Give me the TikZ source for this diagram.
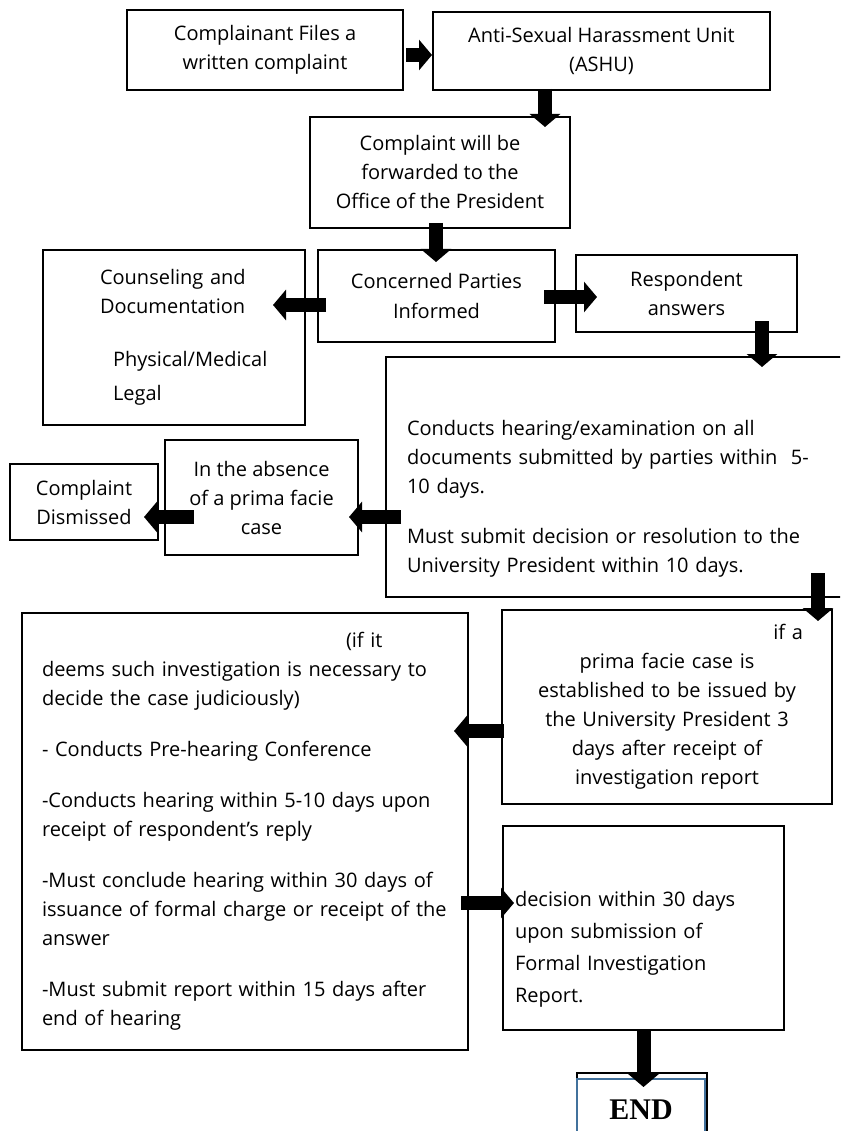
\documentclass[tikz,border=0pt]{standalone}
\usepackage{fontspec}
\setmainfont{Open Sans}
\newfontfamily\closingfont{Liberation Serif}
\usetikzlibrary{arrows.meta}
\definecolor{endblue}{RGB}{65,113,156}

\begin{document}
\begin{tikzpicture}[x=1pt, y=-1pt,
            stage/.style={draw, line width=2pt, inner sep=0pt, align=center, font=\fontsize{20}{29}\selectfont},
            blockarrow/.style={line width=14pt, -{Triangle[width=30pt,length=13pt]}},
        ]
            \useasboundingbox (0,0) rectangle (840,1131);
            \clip (0,0) rectangle (840,1131);

            \node[stage, minimum width=276pt, minimum height=80pt] (cfile) at (265,50) {Complainant Files a\\written complaint};
            \node[stage, minimum width=337pt, minimum height=78pt] (ashu) at (601.5,51) {Anti-Sexual Harassment Unit\\(ASHU)};
            \node[stage, minimum width=260pt, minimum height=111pt] (fwd) at (440,172.5) {Complaint will be\\forwarded to the\\Office of the President};
            \node[stage, minimum width=237pt, minimum height=92pt] (informed) at (436.5,296) {Concerned Parties\\Informed};
            \node[stage, minimum width=262pt, minimum height=175pt, text width=220pt, align=left] (counsel) at (174,337.5) {\hspace*{36pt}Counseling and\\\hspace*{36pt}Documentation\\[24pt]\hspace*{49pt}Physical/Medical\\[5pt]\hspace*{49pt}Legal};
            \node[stage, minimum width=221pt, minimum height=77pt] (respond) at (686.5,293.5) {Respondent\\answers};
            \node[stage, minimum width=474pt, minimum height=240pt, text width=432pt, align=left] (hearing) at (623,477) {\mbox{}\\\mbox{}\\Conducts hearing/examination on all\\documents submitted by parties within\ \ 5-\\10 days.\\[21pt]Must submit decision or resolution to the\\University President within 10 days.};
            \node[stage, minimum width=193pt, minimum height=115pt] (absence) at (261.5,497.5) {In the absence\\of a prima facie\\case};
            \node[stage, minimum width=148pt, minimum height=76pt] (dismiss) at (84,502) {Complaint\\Dismissed};
            \node[stage, minimum width=330pt, minimum height=194pt, text width=272pt] (prima) at (667,707) {\mbox{}\hfill if a\\prima facie case is\\established to be issued by\\the University President 3\\days after receipt of\\investigation report};
            \node[stage, minimum width=446pt, minimum height=437pt, text width=406pt, align=left] (formal) at (245,831.5) {\hspace*{304pt}(if it\\deems such investigation is necessary to\\decide the case judiciously)\\[22pt]- Conducts Pre-hearing Conference\\[22pt]-Conducts hearing within 5-10 days upon\\receipt of respondent’s reply\\[22pt]-Must conclude hearing within 30 days of\\issuance of formal charge or receipt of the\\answer\\[22pt]-Must submit report within 15 days after\\end of hearing};
            \node[stage, minimum width=281pt, minimum height=204pt, text width=257pt, align=left] (decide) at (643.5,928) {\mbox{}\\\mbox{}\\decision within 30 days\\[3pt]upon submission of\\[3pt]Formal Investigation\\[3pt]Report.};
            \node[draw, line width=2pt, minimum width=130pt, minimum height=62pt] (endback) at (642,1104) {};
            \node[draw=endblue, fill=white, line width=2pt, minimum width=128pt, minimum height=62pt, font=\closingfont\bfseries\fontsize{30}{30}\selectfont] (endbox) at (641,1110) {END};

            \draw[blockarrow] ([xshift=2pt,yshift=-5pt]cfile.east) -- ([yshift=-4pt]ashu.west);
            \draw[blockarrow] ([xshift=-56.5pt,yshift=2pt]ashu.south) -- ([xshift=105pt,yshift=-11pt]fwd.north);
            \draw[blockarrow] ([xshift=-4pt,yshift=6pt]fwd.south) -- ([xshift=-0.5pt,yshift=-13pt]informed.north);
            \draw[blockarrow] ([xshift=9pt,yshift=-9pt]informed.west) -- ([xshift=-33pt,yshift=32.5pt]counsel.east);
            \draw[blockarrow] ([xshift=-12pt,yshift=-1pt]informed.east) -- ([xshift=22pt,yshift=-3.5pt]respond.west);
            \draw[blockarrow] ([xshift=75.5pt,yshift=12pt]respond.south) -- ([xshift=139pt,yshift=-11pt]hearing.north);
            \draw[blockarrow] ([xshift=16pt,yshift=-40pt]hearing.west) -- ([xshift=-10pt,yshift=-19.5pt]absence.east);
            \draw[blockarrow] ([xshift=30pt,yshift=-19.5pt]absence.west) -- ([xshift=-15pt,yshift=-15pt]dismiss.east);
            \draw[blockarrow] ([xshift=195pt,yshift=25pt]hearing.south) -- ([xshift=151pt,yshift=-12pt]prima.north);
            \draw[blockarrow] ([xshift=3pt,yshift=-24pt]prima.west) -- ([xshift=-15pt,yshift=100.5pt]formal.east);
            \draw[blockarrow] ([xshift=-8pt,yshift=-71.5pt]formal.east) -- ([xshift=12pt,yshift=25pt]decide.west);
            \draw[blockarrow] ([yshift=2pt]decide.south) -- ([xshift=2.5pt,yshift=-9pt]endbox.north);
        \end{tikzpicture}
\end{document}
